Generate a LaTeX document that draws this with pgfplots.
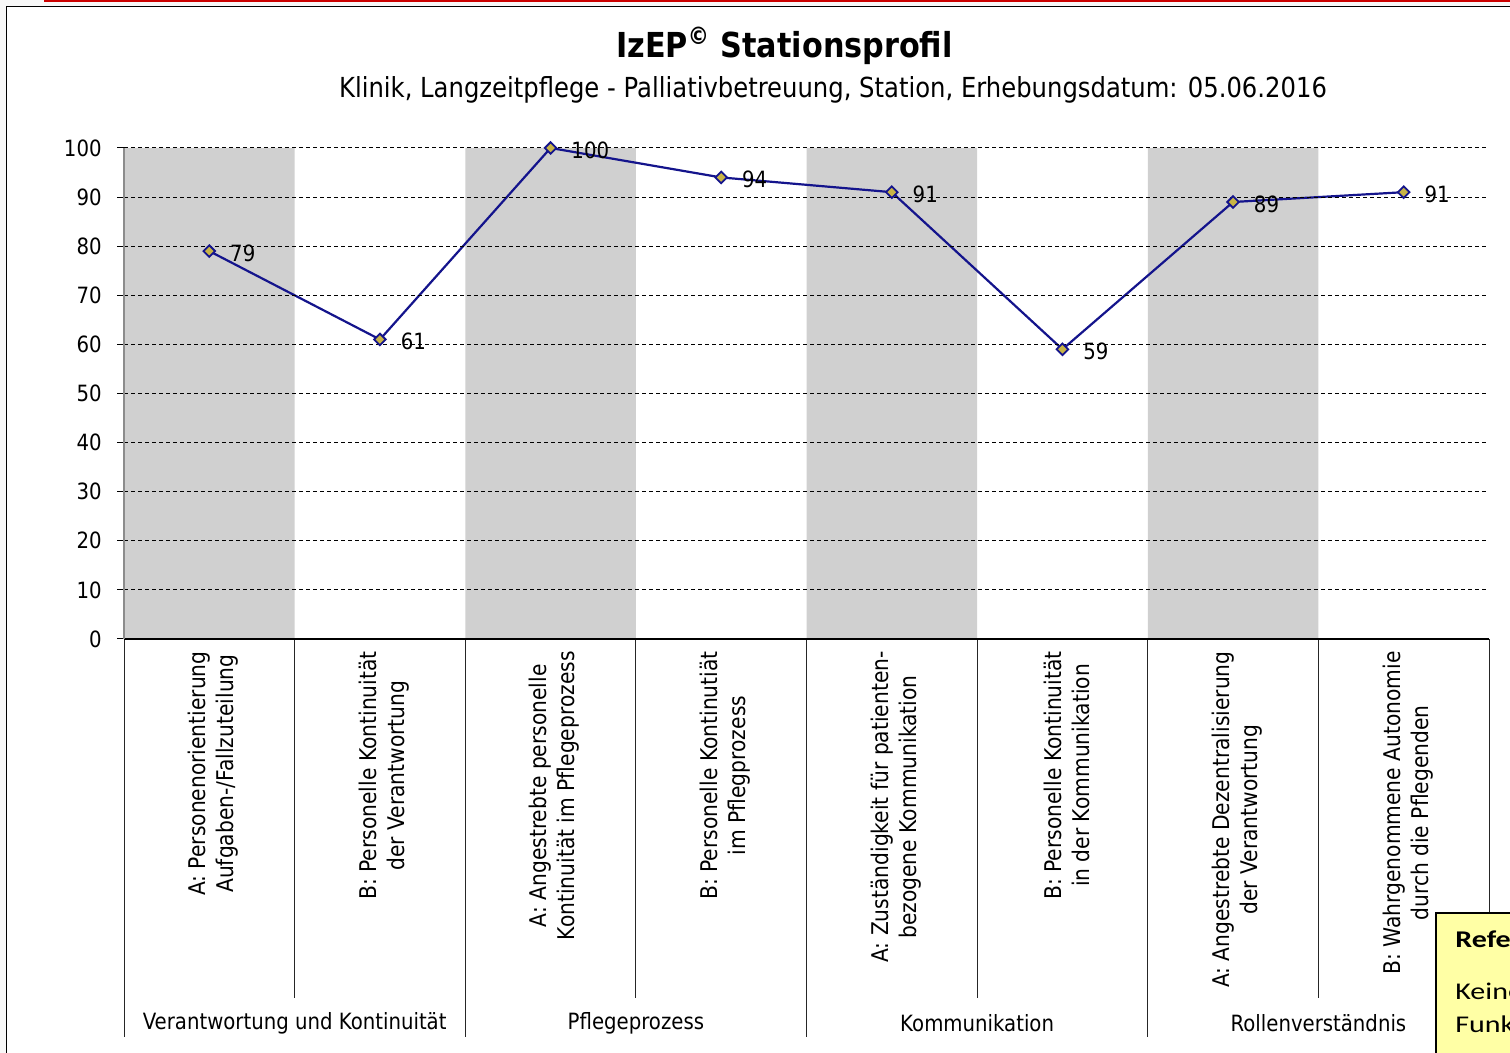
\documentclass[border=0pt]{standalone}
\usepackage{fontspec}
\setmainfont{DejaVu Sans}[FakeStretch=0.88]
\newfontfamily\calibri{Carlito}[FakeStretch=1.25]
\usepackage{pgfplots}
\pgfplotsset{compat=1.18}
\definecolor{bandgray}{RGB}{208,208,208}
\definecolor{navyline}{RGB}{20,20,140}
\definecolor{mfill}{RGB}{200,180,70}
\definecolor{redline}{RGB}{204,0,0}
\definecolor{notefill}{RGB}{255,255,165}
\definecolor{outside}{RGB}{248,248,248}
\newcommand{\tickfont}{\fontsize{11.2}{14}\selectfont}
\newcommand{\catfont}{\fontsize{11.5}{14}\selectfont}
\begin{document}
\begin{tikzpicture}[x=1pt,y=1pt]
\fill[outside] (0,0) rectangle (755,526.5);
\fill[white] (3.25,0) rectangle (755,523.25);
\draw[black, line width=0.75pt] (3.25,0) -- (3.25,523.25) -- (755,523.25);
\fill[redline] (22,525.3) rectangle (755,526.5);
\node[font=\fontsize{17.2}{20}\selectfont\bfseries] at (392.25,503.5) {IzEP\textsuperscript{©} Stationsprofil};
\node[font=\fontsize{13.8}{16}\selectfont] at (416.5,481.5) {Klinik, Langzeitpflege - Palliativbetreuung, Station, Erhebungsdatum: 05.06.2016};
\begin{axis}[
  at={(62pt,207pt)}, anchor=south west,
  width=682.5pt, height=245.5pt, scale only axis,
  xmin=0, xmax=8, ymin=0, ymax=100,
  axis on top,
  clip=false,
  axis x line*=bottom, axis y line*=left,
  x axis line style={black, line width=0.6pt, -},
  y axis line style={black!45, line width=0.6pt, -},
  /pgf/number format/assume math mode=true,
  ytick={0,10,...,100},
  tick align=outside,
  major tick length=3.5pt,
  ytick style={black, line width=0.5pt},
  xtick style={draw=none},
  xtick={0.5,1.5,...,7.5},
  xticklabels={
    {A: Personenorientierung\\Aufgaben-/Fallzuteilung},
    {B: Personelle Kontinuität\\der Verantwortung},
    {A: Angestrebte personelle\\Kontinuität im Pflegeprozess},
    {B: Personelle Kontinutiät\\im Pflegprozess},
    {A: Zuständigkeit für patienten-\\bezogene Kommunikation},
    {B: Personelle Kontinuität\\in der Kommunikation},
    {A: Angestrebte Dezentralisierung\\der Verantwortung},
    {B: Wahrgenommene Autonomie\\durch die Pflegenden}},
  xticklabel style={rotate=90, anchor=east, align=center, font=\catfont, inner sep=0pt, yshift=-2pt, xshift=-2.5pt},
  yticklabel style={font=\tickfont, anchor=east, inner sep=0pt, xshift=-7.5pt},
  ymajorgrids,
  major grid style={black, line width=0.5pt, dash pattern=on 2pt off 1.5pt},
]
\addplot[ybar, bar width=1, bar shift=0pt, fill=bandgray, draw=none]
  coordinates {(0.5,100) (2.5,100) (4.5,100) (6.5,100)};
\addplot[navyline, line width=1.1pt, mark=square*,
  mark options={rotate=45, fill=mfill, draw=navyline, line width=0.9pt, solid},
  mark size=2.05pt,
  nodes near coords,
  nodes near coords style={font=\tickfont, anchor=west, xshift=8pt, yshift=-1pt, inner sep=2pt, text=black}]
  coordinates {(0.5,79) (1.5,61) (2.5,100) (3.5,94) (4.5,91) (5.5,59) (6.5,89) (7.5,91)};
\draw[black!85, line width=0.5pt] (axis cs:0,0) -- ++(0pt,-199pt);
\draw[black!85, line width=0.5pt] (axis cs:2,0) -- ++(0pt,-199pt);
\draw[black!85, line width=0.5pt] (axis cs:4,0) -- ++(0pt,-199pt);
\draw[black!85, line width=0.5pt] (axis cs:6,0) -- ++(0pt,-199pt);
\draw[black!85, line width=0.5pt] (axis cs:8,0) -- ++(0pt,-199pt);
\draw[black!85, line width=0.5pt] (axis cs:1,0) -- ++(0pt,-179.5pt);
\draw[black!85, line width=0.5pt] (axis cs:3,0) -- ++(0pt,-179.5pt);
\draw[black!85, line width=0.5pt] (axis cs:5,0) -- ++(0pt,-179.5pt);
\draw[black!85, line width=0.5pt] (axis cs:7,0) -- ++(0pt,-179.5pt);
\node[font=\tickfont] at ([yshift=-192pt]axis cs:1,0) {Verantwortung und Kontinuität};
\node[font=\tickfont] at ([yshift=-192pt]axis cs:3,0) {Pflegeprozess};
\node[font=\tickfont] at ([yshift=-192pt]axis cs:5,0) {Kommunikation};
\node[font=\tickfont] at ([yshift=-192pt]axis cs:7,0) {Rollenverständnis};
\end{axis}
\begin{scope}
\clip (0,0) rectangle (755,526.5);
\filldraw[fill=notefill, draw=black, line width=1pt] (718,-5) rectangle (770,70);
\node[anchor=base west, inner sep=0pt, font=\calibri\fontsize{12}{15}\selectfont\bfseries] at (727.5,52.5) {Referenz};
\node[anchor=base west, inner sep=0pt, font=\calibri\fontsize{12}{15}\selectfont] at (727.5,26.5) {Keine};
\node[anchor=base west, inner sep=0pt, font=\calibri\fontsize{12}{15}\selectfont] at (727.5,10) {Funktion};
\end{scope}
\pgfresetboundingbox
\useasboundingbox (0,0) rectangle (755,526.5);
\end{tikzpicture}
\end{document}
